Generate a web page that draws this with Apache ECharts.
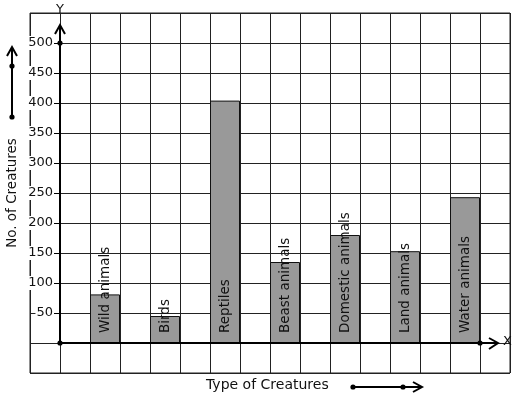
<!DOCTYPE html>
<html>
<head>
<meta charset="utf-8">
<script src="https://cdn.jsdelivr.net/npm/echarts@6/dist/echarts.min.js"></script>
<style>html,body{margin:0;padding:0;background:#fff;}#c{width:517px;height:399px;}</style>
</head>
<body>
<div id="c"></div>
<script>
const categories = ['Wild animals', 'Birds', 'Reptiles', 'Beast animals', 'Domestic animals', 'Land animals', 'Water animals'];
const creatureCounts = [81, 45, 404, 135, 180, 153, 243];
const yTickValues = [0, 50, 100, 150, 200, 250, 300, 350, 400, 450, 500];
const yAxisTitle = 'No. of Creatures';
const xAxisTitle = 'Type of Creatures';

const FONT = 'DejaVu Sans';
const INK = '#111';
const chart = echarts.init(document.getElementById('c'), null, {renderer: 'canvas'});

function dot(x, y) {
  return {type: 'circle', shape: {cx: x, cy: y, r: 2.6}, style: {fill: '#000'}, z: 20};
}
function chevron(points) {
  return {type: 'polyline', shape: {points: points}, style: {stroke: '#000', lineWidth: 2, fill: null}, z: 20};
}
function line(x1, y1, x2, y2, w) {
  return {type: 'line', shape: {x1, y1, x2, y2}, style: {stroke: '#000', lineWidth: w}, z: 19};
}

chart.setOption({
  backgroundColor: '#fff',
  animation: false,
  grid: [
    {left: 30, top: 13, width: 480, height: 360, show: true, borderColor: '#222', borderWidth: 1,
     containLabel: false, outerBoundsMode: 'none'},
    {left: 75, top: 43, width: 420, height: 300, containLabel: false, outerBoundsMode: 'none'}
  ],
  xAxis: [
    {gridIndex: 0, type: 'value', min: 0, max: 16, interval: 1,
     axisLine: {show: false}, axisTick: {show: false}, axisLabel: {show: false},
     splitLine: {show: true, lineStyle: {color: '#222', width: 1}}},
    {gridIndex: 1, type: 'category', data: categories,
     axisLine: {show: false}, axisTick: {show: false}, axisLabel: {show: false}, splitLine: {show: false}}
  ],
  yAxis: [
    {gridIndex: 0, type: 'value', min: 0, max: 12, interval: 1,
     axisLine: {show: false}, axisTick: {show: false}, axisLabel: {show: false},
     splitLine: {show: true, lineStyle: {color: '#222', width: 1}}},
    {gridIndex: 1, type: 'value', min: yTickValues[0], max: yTickValues[yTickValues.length - 1],
     interval: yTickValues[1] - yTickValues[0], offset: 15,
     axisLine: {show: false},
     axisTick: {show: true, length: 6, lineStyle: {color: '#000', width: 1}},
     axisLabel: {show: true, showMinLabel: false, margin: 6, fontSize: 13, fontFamily: FONT, color: INK,
                 backgroundColor: '#fff', padding: [1, 1, 0, 1]},
     splitLine: {show: false},
     name: yAxisTitle, nameLocation: 'middle', nameRotate: 90, nameGap: 41, nameMoveOverlap: false,
     nameTextStyle: {fontSize: 13.5, fontFamily: FONT, color: INK}}
  ],
  series: [{
    type: 'bar',
    xAxisIndex: 1, yAxisIndex: 1,
    data: creatureCounts,
    barWidth: 30,
    itemStyle: {color: '#999999', borderColor: '#111', borderWidth: 1},
    label: {show: true, position: 'insideBottom', rotate: 90, align: 'left', verticalAlign: 'middle',
            distance: 10, formatter: '{b}', fontSize: 13.5, fontFamily: FONT, color: INK},
    z: 5
  }],
  graphic: [
    line(60, 344, 60, 25, 2),
    chevron([[55, 34], [60, 25], [65, 34]]),
    line(59, 343, 498, 343, 2),
    chevron([[489, 338], [498, 343], [489, 349]]),
    dot(60, 343), dot(60, 43), dot(480, 343),
    {type: 'text', left: 56, top: 3, style: {text: 'Y', fontSize: 13, fontFamily: FONT, fill: INK}, z: 20},
    {type: 'text', left: 503, top: 335, style: {text: 'X', fontSize: 13, fontFamily: FONT, fill: INK}, z: 20},
    line(12, 117, 12, 48, 2),
    chevron([[7, 56], [12, 47], [17, 56]]),
    dot(12, 117), dot(12, 66),
    {type: 'text', left: 206, top: 378, style: {text: xAxisTitle, fontSize: 14, fontFamily: FONT, fill: INK}, z: 20},
    line(353, 387, 422, 387, 2),
    chevron([[413, 382], [422, 387], [413, 392]]),
    dot(353, 387), dot(403, 387)
  ]
});
</script>
</body>
</html>
